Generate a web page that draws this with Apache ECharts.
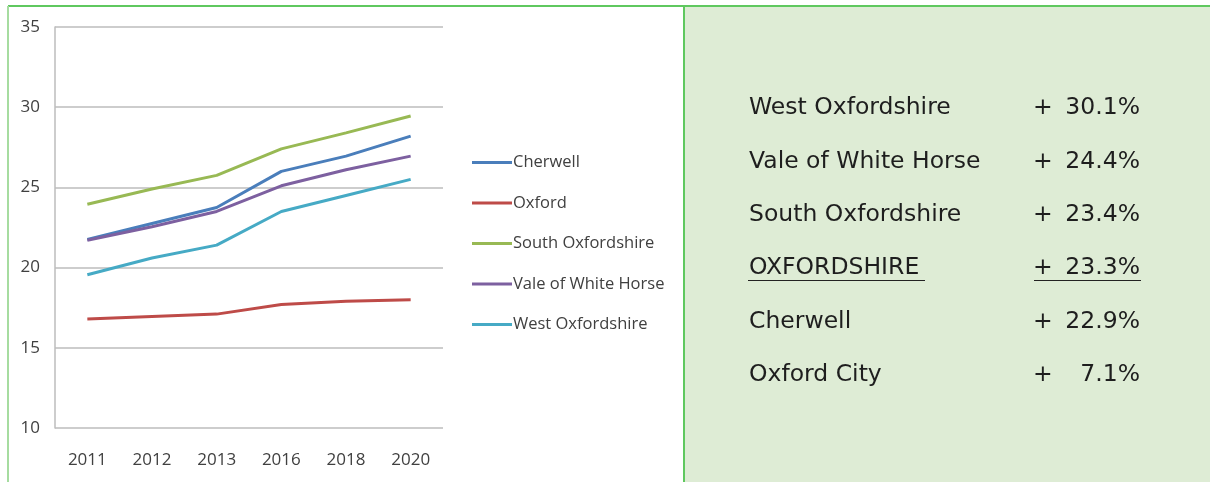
<!DOCTYPE html>
<html lang="en">
<head>
    <meta charset="UTF-8">
    <title>Oxfordshire</title>
    <style>
        html, body { margin: 0; padding: 0; background: #fff; }
    </style>
</head>
<body>
<div id="main" style="width: 1210px;height:482px;"></div>
<script src="https://cdn.jsdelivr.net/npm/echarts@6/dist/echarts.min.js"></script>
<script>
    // data
    var years = ['2011', '2012', '2013', '2016', '2018', '2020'];
    var cherwell = [21.75, 22.75, 23.75, 26.0, 26.95, 28.2];
    var oxford = [16.8, 16.95, 17.1, 17.7, 17.9, 18.0];
    var southOx = [23.95, 24.9, 25.75, 27.4, 28.4, 29.45];
    var vale = [21.7, 22.55, 23.5, 25.1, 26.1, 26.95];
    var westOx = [19.55, 20.6, 21.4, 23.5, 24.5, 25.5];

    var growthNames = ['West Oxfordshire', 'Vale of White Horse', 'South Oxfordshire', 'OXFORDSHIRE', 'Cherwell', 'Oxford City'];
    var growthValues = ['30.1%', '24.4%', '23.4%', '23.3%', '22.9%', '7.1%'];

    var chart = echarts.init(document.getElementById('main'));

    var borderColor = '#5fc85f';
    var labelFont = '"Open Sans", sans-serif';
    var panelFont = '"DejaVu Sans", sans-serif';

    // right hand panel with the growth table
    var graphics = [
        { type: 'rect', shape: { x: 685, y: 7, width: 525, height: 475 }, style: { fill: '#deecd5' }, z: 0 },
        { type: 'line', shape: { x1: 8, y1: 6, x2: 1210, y2: 6 }, style: { stroke: borderColor, lineWidth: 2 }, z: 1 },
        { type: 'line', shape: { x1: 8, y1: 6, x2: 8, y2: 482 }, style: { stroke: '#a6dca0', lineWidth: 2 }, z: 1 },
        { type: 'line', shape: { x1: 684, y1: 6, x2: 684, y2: 482 }, style: { stroke: borderColor, lineWidth: 2 }, z: 1 }
    ];
    growthNames.forEach(function (name, i) {
        var y = 106 + i * 53.4;
        graphics.push({ type: 'text', left: 749, top: y - 10, z: 2,
            style: { text: name, font: '23.5px ' + panelFont, fill: '#1e1e1e' } });
        graphics.push({ type: 'text', left: 1033, top: y - 10, z: 2,
            style: { text: '+', font: '23.5px ' + panelFont, fill: '#1e1e1e' } });
        graphics.push({ type: 'text', right: 1210 - 1140, top: y - 10, z: 2,
            style: { text: growthValues[i], font: '23.5px ' + panelFont, fill: '#1e1e1e', textAlign: 'right' } });
        if (name === 'OXFORDSHIRE') {
            graphics.push({ type: 'line', shape: { x1: 748, y1: 280.5, x2: 925, y2: 280.5 }, style: { stroke: '#222', lineWidth: 1 }, z: 2 });
            graphics.push({ type: 'line', shape: { x1: 1034, y1: 280.5, x2: 1141, y2: 280.5 }, style: { stroke: '#222', lineWidth: 1 }, z: 2 });
        }
    });

    function line(name, data, color) {
        return {
            name: name,
            type: 'line',
            data: data,
            showSymbol: false,
            symbol: 'none',
            lineStyle: { color: color, width: 3 },
            itemStyle: { color: color }
        };
    }

    var option = {
        animation: false,
        backgroundColor: '#fff',
        graphic: graphics,
        grid: { left: 55, right: 767, top: 27, bottom: 54 },
        legend: {
            orient: 'vertical',
            left: 472,
            top: 154,
            padding: 0,
            icon: 'rect',
            itemWidth: 40,
            itemHeight: 3,
            itemGap: 23.5,
            textStyle: { fontFamily: labelFont, fontSize: 16.5, color: '#404040', padding: [0, 0, 0, -4] },
            data: ['Cherwell', 'Oxford', 'South Oxfordshire', 'Vale of White Horse', 'West Oxfordshire']
        },
        xAxis: {
            type: 'category',
            data: years,
            axisLine: { show: false },
            axisTick: { show: false },
            axisLabel: { fontFamily: labelFont, fontSize: 17, color: '#404040', margin: 24 }
        },
        yAxis: {
            type: 'value',
            min: 10,
            max: 35,
            interval: 5,
            axisLine: { show: true, lineStyle: { color: '#bcbcbc', width: 1.5 } },
            axisTick: { show: false },
            axisLabel: { fontFamily: labelFont, fontSize: 17, color: '#404040', margin: 15, align: 'right' },
            splitLine: { lineStyle: { color: '#bcbcbc', width: 1.5 } }
        },
        series: [
            line('Cherwell', cherwell, '#4a7ebb'),
            line('Oxford', oxford, '#be4b48'),
            line('South Oxfordshire', southOx, '#98b954'),
            line('Vale of White Horse', vale, '#7d60a0'),
            line('West Oxfordshire', westOx, '#46aac5')
        ]
    };

    chart.setOption(option);
</script>
</body>
</html>
